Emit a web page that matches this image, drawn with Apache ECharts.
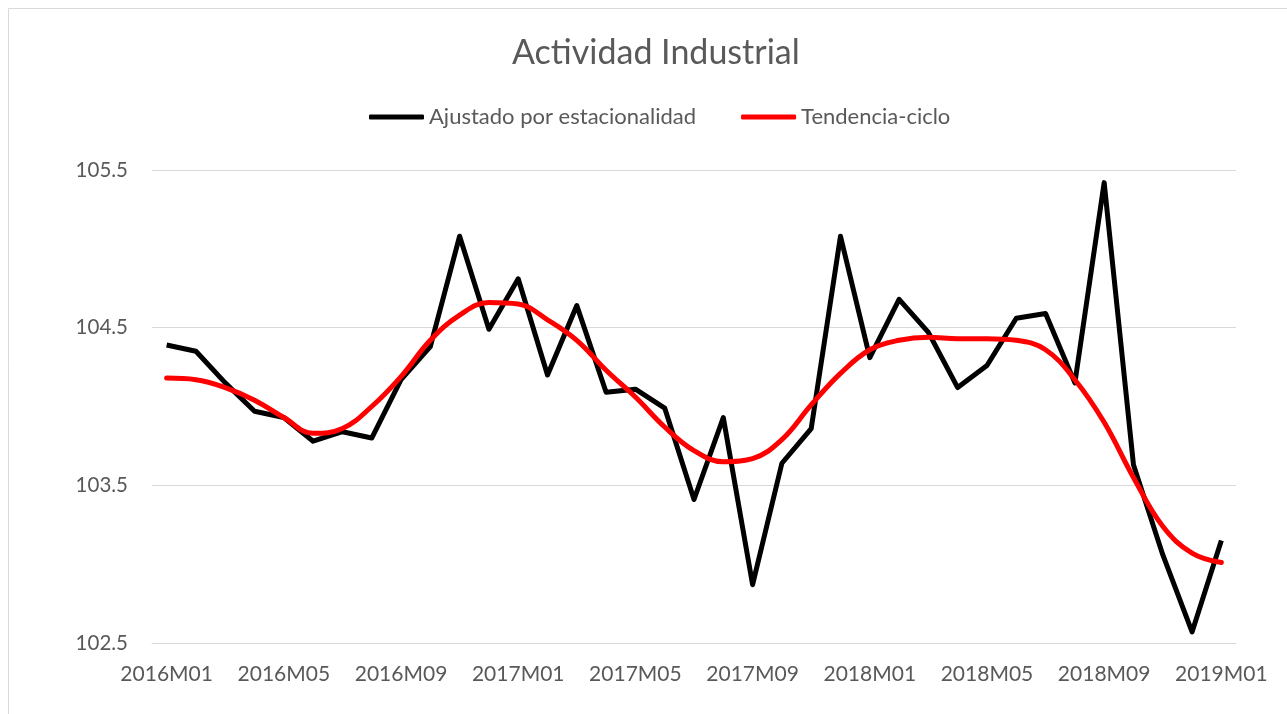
<!DOCTYPE html>
<html>
<head>
<meta charset="utf-8">
<script src="https://cdn.jsdelivr.net/npm/echarts@6/dist/echarts.min.js"></script>
<style>
html,body{margin:0;padding:0;background:#fff;}
#chart{width:1287px;height:714px;}
</style>
</head>
<body>
<div id="chart"></div>
<script>
const categories = [
  '2016M01','2016M02','2016M03','2016M04','2016M05','2016M06','2016M07','2016M08','2016M09','2016M10','2016M11','2016M12',
  '2017M01','2017M02','2017M03','2017M04','2017M05','2017M06','2017M07','2017M08','2017M09','2017M10','2017M11','2017M12',
  '2018M01','2018M02','2018M03','2018M04','2018M05','2018M06','2018M07','2018M08','2018M09','2018M10','2018M11','2018M12',
  '2019M01'
];
const ajustado = [
  104.39, 104.35, 104.15, 103.97, 103.93, 103.78, 103.84, 103.80, 104.17, 104.38, 105.08, 104.49,
  104.81, 104.20, 104.64, 104.09, 104.11, 103.99, 103.41, 103.93, 102.87, 103.64, 103.86, 105.08,
  104.31, 104.68, 104.47, 104.12, 104.26, 104.56, 104.59, 104.15, 105.42, 103.63, 103.06, 102.57,
  103.15
];
const tendencia = [
  104.18, 104.17, 104.12, 104.04, 103.93, 103.83, 103.86, 104.00, 104.19, 104.42, 104.58, 104.66,
  104.65, 104.55, 104.42, 104.23, 104.06, 103.87, 103.72, 103.65, 103.67, 103.79, 104.01, 104.21,
  104.36, 104.42, 104.44, 104.43, 104.43, 104.42, 104.36, 104.17, 103.90, 103.55, 103.24, 103.07,
  103.01
];
const yLabels = ['102.5', '103.5', '104.5', '105.5'];

const chart = echarts.init(document.getElementById('chart'));
const txt = '#595959';
const font = 'Lato, "Open Sans", sans-serif';
chart.setOption({
  backgroundColor: '#ffffff',
  animation: false,
  title: {
    text: 'Actividad Industrial',
    left: 507,
    top: 31,
    textStyle: { color: txt, fontSize: 34, fontWeight: 'normal', fontFamily: font }
  },
  legend: {
    top: 101,
    left: 364,
    itemWidth: 55,
    itemHeight: 5,
    itemGap: 45,
    icon: 'roundRect',
    textStyle: { color: txt, fontSize: 22, fontFamily: font },
    data: ['Ajustado por estacionalidad', 'Tendencia-ciclo']
  },
  graphic: [{
    type: 'rect',
    shape: { x: 8.5, y: 8.5, width: 1300, height: 720 },
    style: { fill: 'none', stroke: '#d9d9d9', lineWidth: 1 },
    silent: true
  }],
  grid: { left: 152, right: 51, top: 170, bottom: 71 },
  xAxis: {
    type: 'category',
    data: categories,
    boundaryGap: true,
    axisLine: { show: true, lineStyle: { color: '#d9d9d9', width: 1 } },
    axisTick: { show: false },
    axisLabel: { interval: 3, color: txt, fontSize: 21, fontFamily: font, margin: 21 },
    splitLine: { show: false }
  },
  yAxis: {
    type: 'value',
    min: 102.5,
    max: 105.5,
    interval: 0.5,
    axisLine: { show: false },
    axisTick: { show: false },
    axisLabel: {
      color: txt, fontSize: 20.5, fontFamily: font, margin: 24,
      formatter: function (v) {
        const s = v.toFixed(1);
        return yLabels.indexOf(s) >= 0 ? s : '';
      }
    },
    splitLine: { show: true, lineStyle: { color: ['#d9d9d9', 'rgba(0,0,0,0)'], width: 1 } }
  },
  series: [
    {
      name: 'Ajustado por estacionalidad',
      type: 'line',
      data: ajustado,
      showSymbol: false,
      symbol: 'none',
      color: '#000000',
      lineStyle: { color: '#000000', width: 5, join: 'round' },
      z: 3
    },
    {
      name: 'Tendencia-ciclo',
      type: 'line',
      data: tendencia,
      smooth: 0.4,
      showSymbol: false,
      symbol: 'none',
      color: '#ff0000',
      lineStyle: { color: '#ff0000', width: 5, cap: 'round' },
      z: 4
    }
  ]
});
</script>
</body>
</html>
